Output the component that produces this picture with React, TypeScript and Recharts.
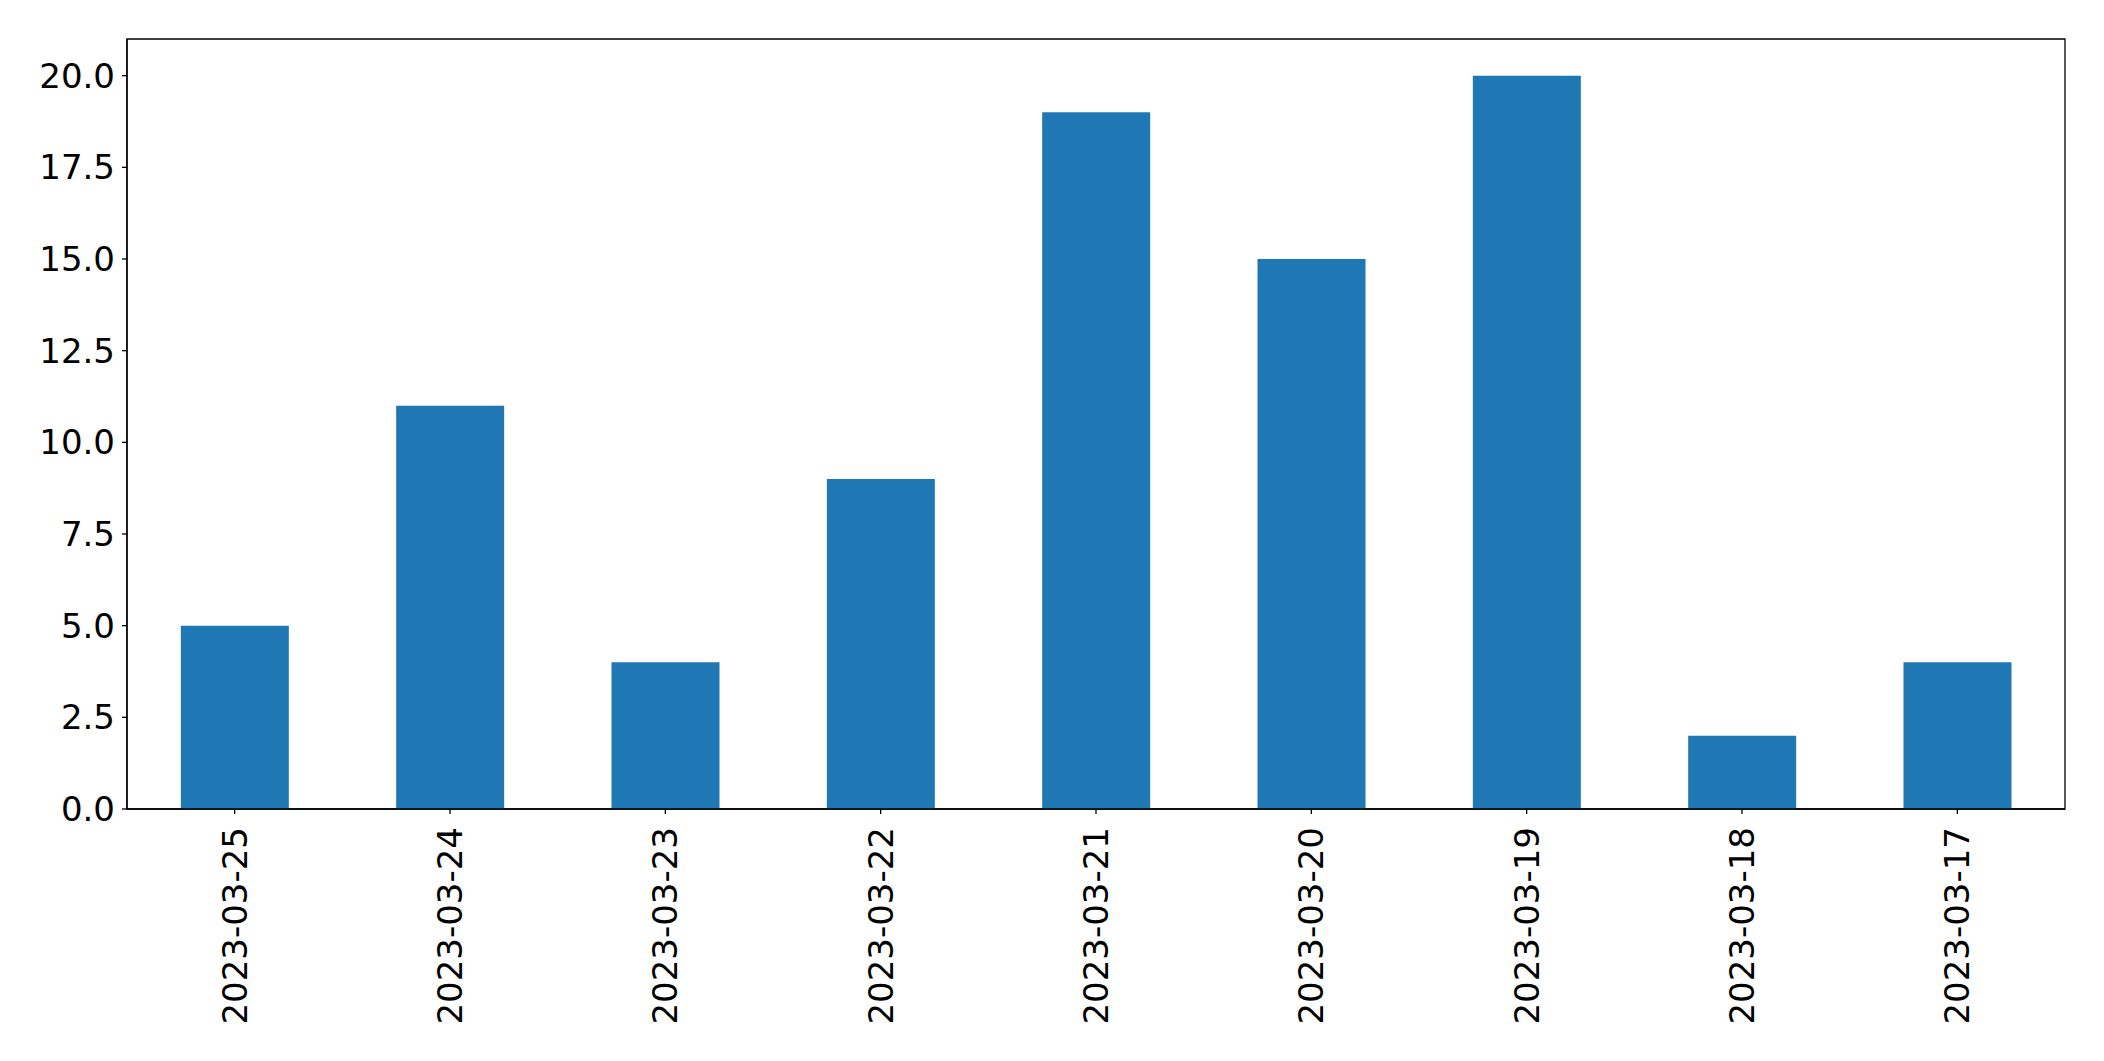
import { BarChart, Bar, XAxis, YAxis, ReferenceArea } from "recharts";

const dates = ["2023-03-25", "2023-03-24", "2023-03-23", "2023-03-22", "2023-03-21", "2023-03-20", "2023-03-19", "2023-03-18", "2023-03-17"];
const counts = [5, 11, 4, 9, 19, 15, 20, 2, 4];
const yTicks = [0, 2.5, 5, 7.5, 10, 12.5, 15, 17.5, 20];

const data = dates.map((d, i) => ({ date: d, count: counts[i] }));

const FONT = "'DejaVu Sans', sans-serif";

function DateTick(props: any) {
  const { x, y, payload } = props;
  return (
    <text
      x={x}
      y={y}
      transform={`rotate(-90, ${x}, ${y})`}
      textAnchor="end"
      dominantBaseline="central"
      fontSize={34}
      fontFamily={FONT}
      fill="#000"
    >
      {payload.value}
    </text>
  );
}

export default function App() {
  return (
    <div style={{ position: "absolute", left: 0, top: 0, background: "#fff" }}>
      <BarChart width={2104} height={1061} data={data} margin={{ top: 39, right: 39, bottom: 0, left: 0 }} barCategoryGap="25%">
        <ReferenceArea y1={0} y2={21} fill="none" stroke="#000" strokeWidth={1.3} ifOverflow="visible" />
        <XAxis
          dataKey="date"
          height={252}
          interval={0}
          tickSize={5}
          tickMargin={13}
          tick={<DateTick />}
          stroke="#000"
          tickLine={{ stroke: "#000", strokeWidth: 1.3 }}
          axisLine={{ stroke: "#000", strokeWidth: 1.3 }}
        />
        <YAxis
          width={127}
          domain={[0, 21]}
          ticks={yTicks}
          tickFormatter={(v: number) => v.toFixed(1)}
          tickSize={5}
          tickMargin={7}
          tick={{ fontSize: 34, fontFamily: FONT, fill: "#000" }}
          stroke="#000"
          tickLine={{ stroke: "#000", strokeWidth: 1.3 }}
          axisLine={{ stroke: "#000", strokeWidth: 1.3 }}
        />
        <Bar dataKey="count" fill="#1f77b4" isAnimationActive={false} />
      </BarChart>
    </div>
  );
}
